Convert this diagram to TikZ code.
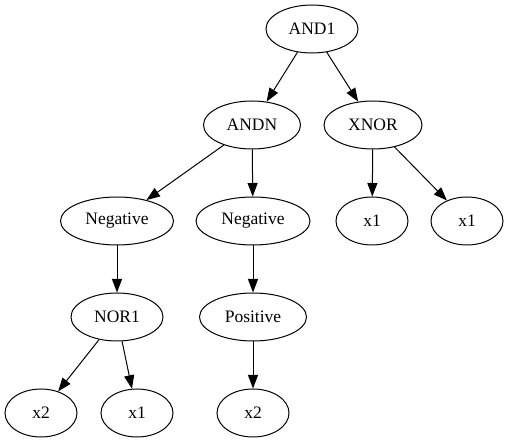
\documentclass[tikz,border=0pt]{standalone}
\usepackage{fontspec}
\setmainfont{Liberation Serif}
\usetikzlibrary{shapes.geometric,arrows.meta}
\begin{document}
\begin{tikzpicture}[x=1pt,y=-1pt,
  gnode/.style={draw, ellipse, line width=1pt, minimum height=48pt, inner sep=0pt,
    font=\fontsize{17.5}{20}\selectfont},
  garrow/.style={-{Triangle[length=13.5pt,width=10pt]}, line width=1pt}]
\useasboundingbox (0,0) rectangle (509,443);
\node[gnode, minimum width=92pt]  (and1) at (312,29)  {AND1};
\node[gnode, minimum width=97pt]  (andn) at (252,125) {ANDN};
\node[gnode, minimum width=98pt]  (xnor) at (373,125) {XNOR};
\node[gnode, minimum width=113pt] (negl) at (117,221) {Negative};
\node[gnode, minimum width=114pt] (negr) at (253,221) {Negative};
\node[gnode, minimum width=72pt]  (x1a)  at (372,221) {x1};
\node[gnode, minimum width=72pt]  (x1b)  at (467,221) {x1};
\node[gnode, minimum width=92pt]  (nor1) at (117,317) {NOR1};
\node[gnode, minimum width=107pt] (pos)  at (253,317) {Positive};
\node[gnode, minimum width=72pt]  (x2a)  at (41,413)  {x2};
\node[gnode, minimum width=72pt]  (x1c)  at (137,413) {x1};
\node[gnode, minimum width=72pt]  (x2b)  at (253,413) {x2};
\draw[garrow] (and1) -- (andn);
\draw[garrow] (and1) -- (xnor);
\draw[garrow] (andn) -- (negl);
\draw[garrow] (andn) -- (negr);
\draw[garrow] (xnor) -- (x1a);
\draw[garrow] (xnor) -- (x1b);
\draw[garrow] (negl) -- (nor1);
\draw[garrow] (negr) -- (pos);
\draw[garrow] (nor1) -- (x2a);
\draw[garrow] (nor1) -- (x1c);
\draw[garrow] (pos) -- (x2b);
\end{tikzpicture}
\end{document}
